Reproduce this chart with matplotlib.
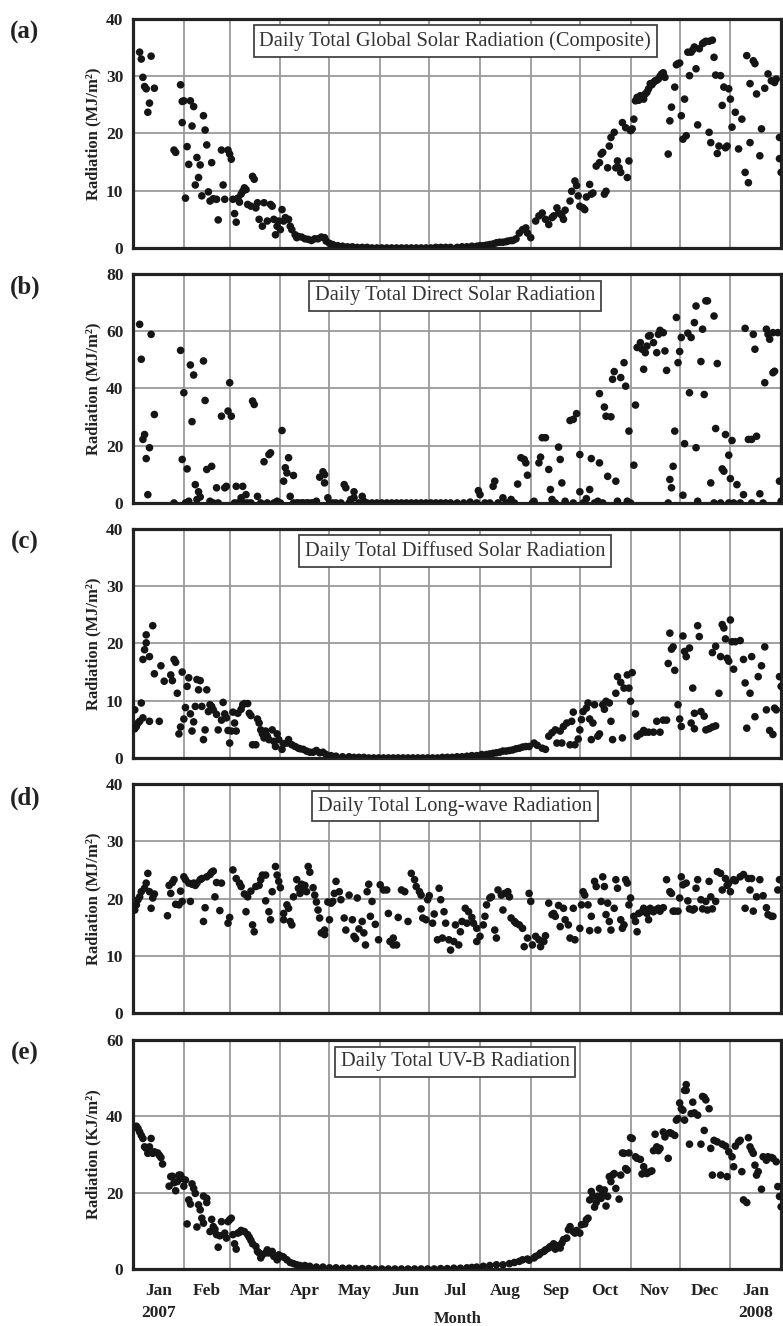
import matplotlib
matplotlib.use("Agg")
import matplotlib.pyplot as plt
import numpy as np

plt.rcParams['font.family'] = ['Liberation Serif', 'DejaVu Serif']

# day 0 = 1 Jan 2007
month_edges = [0, 31, 59, 90, 120, 151, 181, 212, 243, 273, 304, 334, 365, 396]
month_names = ['Jan\n2007', 'Feb', 'Mar', 'Apr', 'May', 'Jun', 'Jul', 'Aug',
               'Sep', 'Oct', 'Nov', 'Dec', 'Jan\n2008']

# (a) global solar radiation (MJ/m2)
global_day = [4, 5, 6, 7, 8, 9, 10, 11, 13, 25, 26, 29, 30, 30, 31, 32, 33, 34, 35, 36, 37, 38, 39, 40,
              41, 42, 43, 44, 45, 46, 47, 48, 49, 51, 52, 54, 55, 56, 58, 59, 60, 61, 62, 63, 64, 65,
              66, 67, 68, 69, 70, 72, 73, 74, 75, 76, 77, 79, 80, 82, 84, 85, 86, 87, 88, 89, 90, 91,
              92, 93, 95, 96, 97, 99, 100, 101, 103, 105, 107, 109, 111, 113, 115, 117, 118, 120, 122,
              125, 128, 131, 134, 137, 140, 143, 146, 149, 152, 155, 158, 161, 164, 167, 170, 173, 176,
              179, 182, 185, 188, 191, 194, 198, 201, 204, 207, 210, 212, 214, 216, 218, 220, 222, 224,
              226, 228, 229, 231, 232, 234, 236, 238, 240, 241, 243, 246, 248, 250, 252, 254, 256, 257,
              259, 260, 262, 263, 264, 267, 268, 270, 271, 272, 273, 275, 276, 277, 279, 280, 281, 283,
              285, 286, 287, 288, 289, 290, 291, 292, 294, 295, 296, 297, 298, 299, 301, 302, 303, 304,
              305, 306, 307, 308, 309, 310, 311, 312, 313, 314, 315, 316, 317, 318, 319, 320, 321, 322,
              323, 324, 325, 327, 328, 329, 331, 332, 333, 334, 335, 336, 337, 338, 339, 340, 341, 342,
              343, 344, 345, 346, 348, 349, 350, 352, 352, 353, 354, 355, 356, 357, 358, 359, 360, 361,
              362, 363, 364, 365, 366, 368, 370, 372, 374, 375, 376, 377, 377, 379, 380, 381, 383, 384,
              386, 388, 390, 392, 393, 395, 395, 396]
global_val = [34.2, 33.0, 29.8, 28.2, 27.8, 23.7, 25.3, 33.5, 27.9, 17.1, 16.7, 28.5, 21.9, 25.6, 25.7,
              8.7, 17.7, 14.6, 25.7, 21.3, 24.7, 11.0, 15.8, 12.3, 14.5, 9.1, 23.1, 20.6, 18.0, 9.8, 8.2,
              14.9, 8.6, 8.5, 4.9, 17.1, 11.0, 8.5, 17.1, 16.4, 15.5, 8.5, 6.0, 4.5, 8.7, 8.0, 9.4, 9.9,
              10.5, 10.2, 7.6, 7.3, 12.5, 12.0, 7.0, 7.9, 5.0, 3.8, 7.9, 4.7, 7.6, 7.3, 5.0, 2.3, 3.8,
              4.7, 3.2, 6.7, 4.7, 5.3, 5.0, 3.8, 3.2, 2.3, 1.8, 2.0, 1.9, 1.6, 1.5, 1.3, 1.6, 1.6, 1.9,
              1.8, 1.2, 0.8, 0.6, 0.4, 0.3, 0.2, 0.2, 0.1, 0.1, 0.1, 0.0, 0.0, 0.0, 0.0, 0.0, 0.0, 0.0,
              0.0, 0.0, 0.0, 0.0, 0.0, 0.0, 0.1, 0.1, 0.1, 0.1, 0.1, 0.2, 0.2, 0.3, 0.3, 0.4, 0.4, 0.5,
              0.6, 0.7, 0.9, 1.0, 1.0, 1.1, 1.2, 1.3, 1.3, 1.6, 2.6, 3.2, 3.5, 2.6, 1.8, 4.7, 5.6, 6.1,
              5.0, 4.1, 5.3, 5.6, 7.0, 6.1, 5.7, 5.0, 6.6, 8.2, 9.9, 11.7, 10.9, 9.1, 7.3, 7.0, 6.7, 8.9,
              11.1, 9.4, 9.6, 14.3, 14.9, 16.4, 16.7, 9.4, 9.9, 14.0, 17.8, 19.3, 20.2, 14.0, 15.2, 14.0,
              13.2, 21.9, 21.0, 12.3, 15.2, 20.5, 20.8, 22.5, 25.7, 26.3, 25.8, 26.6, 26.2, 26.0, 26.9,
              27.2, 27.8, 28.7, 28.5, 28.9, 29.2, 29.3, 29.5, 30.0, 30.4, 30.6, 29.8, 16.4, 22.2, 24.6,
              28.1, 32.0, 32.2, 32.3, 23.1, 19.0, 26.0, 19.6, 34.2, 30.1, 34.2, 34.6, 35.1, 31.3, 21.5,
              34.8, 35.7, 35.9, 36.1, 36.1, 20.2, 18.4, 36.3, 33.3, 30.2, 16.5, 17.8, 30.1, 24.9, 28.1,
              17.5, 17.8, 27.8, 26.0, 21.1, 23.7, 17.3, 22.5, 13.2, 33.6, 11.4, 28.7, 18.4, 32.7, 32.2,
              26.9, 16.1, 20.8, 27.9, 30.4, 29.2, 28.9, 29.5, 19.3, 15.6, 13.2]

# (b) direct solar radiation (MJ/m2)
direct_day = [4, 5, 6, 7, 8, 9, 10, 11, 13, 25, 29, 30, 31, 32, 33, 34, 35, 36, 37, 38, 39, 40, 41, 43,
              44, 45, 47, 48, 49, 51, 52, 54, 56, 57, 58, 59, 60, 62, 63, 64, 66, 67, 68, 69, 70, 72,
              73, 74, 76, 78, 80, 82, 83, 84, 86, 88, 90, 91, 92, 93, 94, 95, 96, 98, 98, 100, 101, 103,
              104, 106, 107, 109, 110, 112, 114, 116, 117, 117, 119, 120, 122, 124, 127, 129, 130, 132,
              133, 135, 135, 138, 140, 141, 143, 146, 149, 152, 155, 158, 161, 164, 167, 170, 173, 176,
              179, 182, 185, 188, 191, 194, 198, 202, 206, 210, 211, 212, 215, 218, 220, 221, 223, 226,
              228, 231, 233, 235, 237, 239, 240, 241, 244, 245, 248, 249, 250, 252, 254, 255, 256, 258,
              260, 261, 262, 264, 267, 269, 269, 271, 273, 273, 275, 277, 279, 280, 282, 284, 285, 285,
              287, 288, 289, 290, 292, 293, 294, 295, 296, 298, 300, 301, 302, 303, 304, 306, 307, 308,
              310, 311, 312, 313, 314, 315, 316, 318, 320, 321, 322, 324, 325, 326, 327, 328, 329, 330,
              331, 332, 333, 334, 335, 336, 337, 339, 340, 341, 343, 344, 344, 345, 347, 348, 349, 350,
              351, 353, 355, 355, 356, 357, 359, 360, 361, 362, 364, 364, 365, 366, 367, 369, 371, 373,
              374, 376, 378, 378, 379, 380, 381, 383, 385, 386, 387, 388, 389, 391, 391, 392, 394, 395,
              396]
direct_val = [62.4, 50.2, 22.2, 23.9, 15.5, 2.9, 19.3, 58.9, 30.9, 0.0, 53.3, 15.2, 38.5, 0.0, 11.9, 0.6,
              48.2, 28.4, 44.7, 6.4, 1.2, 3.9, 2.1, 49.6, 35.8, 11.7, 0.6, 12.8, 0.0, 5.3, 0.0, 30.3,
              5.3, 5.8, 32.1, 42.0, 30.3, 0.0, 5.8, 0.0, 1.8, 5.8, 0.0, 2.9, 0.0, 0.0, 35.6, 34.4, 2.3,
              0.0, 14.4, 0.0, 16.9, 17.5, 0.0, 0.6, 0.0, 25.3, 7.6, 12.3, 10.5, 15.8, 2.3, 9.6, 0.0, 0.0,
              0.0, 0.0, 0.0, 0.0, 0.0, 0.0, 0.0, 0.6, 9.0, 10.9, 7.0, 9.9, 1.8, 0.0, 0.0, 0.0, 0.0, 6.4,
              5.3, 0.0, 1.2, 3.9, 1.8, 0.0, 2.3, 0.6, 0.0, 0.0, 0.0, 0.0, 0.0, 0.0, 0.0, 0.0, 0.0, 0.0,
              0.0, 0.0, 0.0, 0.0, 0.0, 0.0, 0.0, 0.0, 0.0, 0.0, 0.3, 0.0, 4.3, 2.9, 0.0, 0.0, 5.8, 7.6,
              0.0, 1.8, 0.0, 1.2, 0.0, 6.6, 15.8, 15.2, 14.0, 9.7, 0.0, 0.6, 14.0, 16.0, 22.8, 22.8,
              11.7, 4.7, 1.2, 0.0, 19.5, 15.2, 7.0, 0.6, 28.8, 0.0, 29.2, 31.2, 3.9, 16.9, 0.0, 1.5, 4.7,
              15.5, 0.0, 0.6, 38.2, 14.0, 0.0, 33.5, 30.3, 9.3, 30.1, 43.2, 45.9, 7.6, 0.6, 43.8, 49.0,
              40.8, 0.6, 25.1, 0.0, 13.2, 34.2, 54.3, 56.0, 53.7, 46.7, 52.5, 54.8, 58.3, 58.5, 56.0,
              52.5, 58.9, 60.3, 59.5, 53.1, 46.3, 0.0, 8.2, 5.3, 12.8, 25.1, 64.8, 49.0, 52.9, 57.8, 2.7,
              20.7, 59.3, 38.5, 57.8, 63.0, 68.8, 19.3, 0.6, 49.4, 60.7, 37.9, 70.6, 70.6, 7.0, 65.3,
              0.0, 26.0, 48.7, 0.0, 11.9, 11.1, 23.9, 0.0, 16.7, 8.5, 21.8, 0.0, 6.4, 0.0, 2.9, 61.0,
              22.2, 22.2, 0.0, 58.9, 53.7, 23.3, 3.2, 0.0, 42.0, 60.7, 58.9, 57.2, 59.5, 45.5, 46.0,
              59.5, 7.6, 0.6]

# (c) diffused solar radiation (MJ/m2)
diffuse_day = [1, 1, 2, 3, 4, 5, 6, 6, 7, 8, 8, 10, 10, 12, 13, 16, 17, 19, 23, 24, 25, 26, 27, 28, 29,
               30, 31, 32, 33, 34, 35, 36, 37, 38, 39, 40, 41, 42, 43, 44, 45, 46, 47, 48, 49, 51, 52,
               54, 55, 56, 57, 58, 59, 60, 61, 62, 63, 64, 66, 67, 68, 70, 71, 72, 73, 75, 76, 77, 78,
               79, 80, 81, 82, 83, 85, 86, 87, 88, 89, 91, 92, 94, 95, 97, 99, 101, 102, 104, 106, 108,
               110, 112, 114, 116, 118, 121, 124, 128, 132, 135, 138, 141, 144, 147, 150, 153, 156, 159,
               162, 165, 168, 171, 174, 177, 180, 183, 186, 189, 192, 195, 198, 201, 204, 207, 210, 213,
               216, 218, 220, 222, 224, 226, 228, 230, 232, 234, 236, 238, 240, 242, 245, 247, 250, 252,
               254, 256, 258, 259, 261, 262, 263, 265, 267, 268, 269, 270, 272, 273, 274, 275, 277, 278,
               279, 280, 281, 282, 284, 285, 287, 288, 289, 291, 292, 293, 295, 296, 298, 299, 300, 302,
               303, 304, 305, 307, 308, 310, 312, 313, 315, 318, 320, 322, 324, 326, 327, 328, 329, 330,
               331, 333, 334, 335, 336, 337, 338, 340, 341, 342, 343, 343, 345, 346, 347, 349, 350, 352,
               354, 356, 354, 356, 358, 359, 360, 361, 362, 363, 364, 365, 366, 367, 368, 371, 373, 374,
               375, 377, 378, 380, 382, 384, 386, 387, 389, 391, 392, 393, 395, 396]
diffuse_val = [8.4, 5.1, 5.5, 6.1, 6.4, 9.6, 17.2, 7.0, 18.9, 20.1, 21.5, 17.7, 6.4, 23.1, 14.7, 6.4, 16.1,
               13.4, 14.5, 13.5, 17.2, 16.7, 11.3, 4.2, 5.4, 15.0, 6.8, 8.8, 12.5, 14.0, 7.7, 4.7, 6.3,
               9.0, 13.7, 11.9, 13.5, 9.0, 3.2, 4.9, 11.9, 8.1, 9.3, 9.0, 8.4, 7.6, 4.9, 6.6, 9.7, 7.7,
               7.0, 4.8, 2.6, 4.7, 8.0, 6.1, 4.7, 7.8, 8.5, 9.3, 9.5, 9.5, 7.8, 7.4, 2.3, 2.3, 6.8, 6.1,
               4.9, 4.2, 3.5, 4.7, 3.8, 3.2, 4.9, 2.9, 2.0, 4.2, 3.2, 1.5, 2.5, 2.6, 3.2, 2.3, 2.0, 1.7,
               1.6, 1.5, 1.2, 1.0, 1.0, 1.3, 0.9, 1.0, 0.6, 0.4, 0.3, 0.2, 0.2, 0.1, 0.1, 0.1, 0.0, 0.0,
               0.0, 0.0, 0.0, 0.0, 0.0, 0.0, 0.0, 0.0, 0.0, 0.0, 0.0, 0.0, 0.0, 0.1, 0.1, 0.1, 0.2, 0.2,
               0.3, 0.4, 0.4, 0.6, 0.6, 0.7, 0.8, 0.9, 1.0, 1.2, 1.2, 1.3, 1.4, 1.6, 1.7, 1.9, 2.0, 2.0,
               2.6, 2.2, 1.7, 1.5, 3.8, 4.4, 4.9, 2.6, 4.7, 2.6, 5.5, 6.1, 2.3, 6.4, 8.0, 2.3, 3.3, 4.9,
               6.7, 8.1, 8.7, 9.6, 6.8, 3.2, 6.1, 9.3, 3.8, 4.2, 9.3, 8.5, 9.9, 9.6, 6.4, 3.2, 11.3,
               14.2, 13.2, 3.5, 12.2, 14.5, 12.2, 9.9, 14.9, 7.7, 3.8, 4.2, 4.8, 4.5, 4.5, 4.5, 6.4, 4.5,
               6.6, 6.6, 16.5, 21.8, 19.0, 19.4, 15.3, 9.3, 6.8, 5.5, 21.3, 18.6, 17.7, 19.2, 6.1, 12.2,
               7.8, 5.1, 23.1, 21.2, 8.1, 7.3, 4.9, 5.1, 5.4, 5.6, 18.4, 19.5, 11.3, 17.7, 23.3, 22.7,
               20.8, 17.4, 16.9, 24.1, 20.3, 15.5, 20.3, 20.5, 17.2, 13.1, 5.2, 11.3, 17.7, 7.2, 14.2,
               16.1, 19.4, 8.4, 4.8, 4.1, 8.7, 8.4, 14.2, 12.5]

# (d) long-wave radiation (MJ/m2)
longwave_day = [1, 2, 3, 4, 5, 7, 8, 9, 10, 11, 12, 13, 21, 22, 23, 24, 25, 26, 28, 29, 30, 31, 32, 34,
                35, 36, 37, 38, 39, 41, 42, 43, 44, 45, 47, 48, 49, 50, 51, 53, 54, 58, 59, 61, 63, 65,
                66, 68, 69, 70, 72, 73, 74, 75, 77, 78, 79, 81, 81, 83, 84, 85, 87, 88, 89, 90, 92, 92,
                94, 95, 96, 97, 98, 100, 101, 102, 103, 104, 105, 106, 107, 108, 110, 111, 112, 113, 114,
                115, 117, 117, 119, 120, 121, 122, 123, 124, 126, 127, 129, 130, 132, 134, 135, 136, 137,
                138, 140, 141, 142, 143, 144, 145, 146, 148, 150, 151, 153, 155, 156, 157, 159, 159, 161,
                162, 164, 166, 168, 170, 172, 173, 175, 176, 176, 177, 179, 180, 181, 183, 184, 186, 187,
                188, 189, 190, 191, 193, 194, 196, 197, 199, 200, 201, 203, 204, 205, 207, 208, 210, 210,
                212, 214, 215, 216, 218, 219, 221, 222, 223, 225, 226, 227, 229, 230, 231, 233, 234, 236,
                238, 239, 241, 242, 243, 244, 246, 248, 249, 251, 252, 254, 256, 257, 258, 260, 261, 263,
                264, 266, 267, 269, 270, 273, 274, 275, 276, 278, 279, 280, 282, 283, 284, 286, 287, 288,
                289, 290, 291, 292, 294, 295, 296, 298, 299, 300, 301, 302, 303, 304, 306, 307, 308, 309,
                311, 312, 314, 315, 316, 318, 319, 321, 322, 324, 326, 328, 329, 330, 331, 333, 334, 335,
                336, 338, 339, 340, 342, 343, 344, 345, 347, 348, 350, 351, 352, 353, 354, 356, 357, 359,
                360, 362, 363, 364, 365, 367, 368, 371, 373, 374, 376, 377, 378, 379, 381, 383, 385, 387,
                388, 390, 391, 394, 395]
longwave_val = [18.0, 18.9, 19.8, 20.3, 21.2, 21.8, 22.7, 24.4, 21.2, 18.3, 20.1, 20.8, 17.0, 22.3, 20.9,
                22.8, 23.3, 19.0, 18.9, 21.3, 19.5, 23.8, 23.3, 22.7, 19.5, 22.5, 22.7, 22.3, 22.7, 23.3,
                23.5, 16.0, 18.4, 23.8, 24.2, 24.6, 24.8, 20.3, 22.8, 17.9, 22.7, 15.7, 16.7, 25.0, 23.5,
                22.7, 22.1, 20.8, 17.7, 20.3, 21.3, 15.4, 14.2, 22.1, 22.3, 23.3, 24.1, 19.6, 24.1, 17.7,
                16.3, 21.2, 25.6, 24.1, 23.0, 21.9, 16.3, 17.4, 18.9, 18.3, 16.0, 15.4, 20.3, 23.3, 21.8,
                20.9, 22.5, 21.5, 22.3, 21.2, 25.6, 24.6, 21.9, 20.6, 19.4, 18.0, 16.6, 14.0, 13.7, 14.5,
                19.4, 16.3, 19.2, 19.5, 20.9, 23.0, 21.2, 19.8, 16.6, 14.5, 20.6, 16.3, 13.4, 13.0, 20.1,
                14.7, 16.0, 14.0, 11.9, 21.2, 22.5, 16.9, 19.5, 15.5, 12.8, 22.4, 21.5, 21.5, 17.4, 12.5,
                11.9, 13.1, 11.9, 16.7, 21.5, 21.2, 16.0, 24.4, 23.3, 22.1, 21.2, 20.6, 18.2, 16.6, 16.3,
                19.8, 20.5, 15.7, 17.3, 12.8, 21.8, 19.8, 13.1, 17.7, 15.7, 12.8, 11.0, 12.5, 15.4, 11.9,
                14.2, 16.0, 18.3, 15.7, 17.7, 16.7, 15.7, 14.8, 12.5, 13.4, 15.4, 16.9, 18.9, 20.1, 20.3,
                14.5, 13.1, 21.5, 20.6, 18.0, 20.9, 21.2, 20.3, 16.6, 16.0, 15.7, 15.4, 14.8, 11.6, 13.1,
                20.9, 19.5, 11.9, 13.4, 12.8, 11.6, 12.5, 13.5, 19.2, 17.2, 17.4, 16.9, 18.8, 15.1, 18.3,
                16.3, 15.4, 13.1, 18.3, 12.8, 14.8, 18.9, 21.2, 20.6, 18.9, 14.4, 16.9, 23.0, 22.1, 14.5,
                19.5, 23.8, 22.1, 17.2, 19.2, 16.0, 14.5, 18.3, 23.3, 21.8, 16.3, 14.8, 15.4, 23.3, 22.7,
                18.9, 20.1, 16.9, 16.0, 14.2, 17.4, 17.7, 18.3, 17.4, 16.3, 18.3, 17.7, 18.0, 18.3, 17.8,
                18.4, 23.3, 21.2, 20.9, 17.8, 17.8, 17.8, 20.1, 23.8, 22.4, 22.7, 19.6, 18.2, 18.0, 18.2,
                21.8, 23.3, 19.8, 18.2, 19.5, 18.0, 23.0, 20.3, 18.2, 19.5, 24.7, 24.4, 21.5, 23.5, 22.3,
                22.7, 21.2, 23.3, 23.1, 23.8, 24.2, 18.3, 23.5, 21.5, 23.5, 17.8, 20.3, 23.3, 20.5, 18.4,
                17.2, 16.9, 16.9, 21.5, 23.3]

# (e) UV-B radiation (KJ/m2)
uvb_day = [1, 2, 3, 4, 5, 6, 7, 8, 9, 10, 11, 12, 13, 15, 16, 17, 18, 22, 23, 24, 25, 26, 27, 28, 29, 30,
           31, 32, 33, 34, 35, 36, 37, 38, 39, 40, 41, 42, 43, 43, 45, 45, 47, 48, 49, 50, 51, 52, 53,
           54, 56, 57, 58, 59, 60, 61, 62, 63, 64, 65, 66, 68, 70, 71, 72, 73, 75, 76, 77, 78, 79, 81,
           82, 83, 85, 86, 88, 89, 91, 92, 94, 96, 98, 100, 102, 105, 108, 112, 116, 120, 124, 128, 132,
           136, 140, 144, 148, 152, 156, 160, 164, 168, 172, 176, 180, 184, 188, 192, 196, 200, 204, 207,
           210, 214, 218, 222, 226, 230, 233, 236, 238, 241, 242, 245, 246, 248, 249, 251, 252, 254, 255,
           257, 258, 259, 260, 261, 262, 263, 265, 266, 267, 269, 270, 271, 273, 274, 276, 277, 278, 279,
           280, 281, 282, 283, 284, 285, 286, 287, 288, 289, 290, 291, 292, 293, 294, 295, 297, 298, 299,
           300, 301, 302, 303, 304, 305, 307, 308, 310, 311, 312, 313, 314, 316, 317, 318, 319, 320, 321,
           322, 324, 325, 327, 328, 329, 331, 332, 333, 334, 335, 336, 337, 338, 337, 338, 340, 341, 342,
           343, 345, 347, 348, 349, 350, 352, 349, 353, 354, 355, 357, 359, 360, 362, 363, 364, 366, 367,
           368, 370, 371, 372, 373, 375, 376, 377, 378, 379, 380, 381, 382, 384, 385, 387, 388, 390, 391,
           393, 394, 395, 396]
uvb_val = [37.2, 37.4, 36.8, 35.9, 35.0, 34.2, 32.0, 31.6, 30.3, 32.0, 34.2, 30.3, 30.7, 30.4, 29.8, 29.2,
           27.5, 21.7, 24.2, 24.3, 22.6, 20.5, 22.9, 24.6, 24.6, 23.7, 21.7, 23.3, 11.8, 18.1, 17.0, 22.3,
           21.1, 19.8, 11.0, 16.8, 15.5, 13.3, 12.0, 19.1, 18.5, 17.4, 9.8, 13.0, 11.1, 10.4, 9.0, 5.7,
           8.7, 12.4, 9.4, 8.1, 12.4, 12.9, 13.3, 9.0, 6.6, 5.2, 9.4, 9.6, 10.1, 9.8, 9.0, 8.3, 7.5, 6.6,
           5.9, 4.6, 4.2, 2.9, 3.7, 4.2, 5.0, 4.2, 4.6, 3.3, 2.4, 3.7, 3.3, 3.1, 2.4, 1.7, 1.4, 1.1, 0.9,
           0.9, 0.7, 0.5, 0.5, 0.3, 0.3, 0.2, 0.2, 0.1, 0.1, 0.1, 0.0, 0.0, 0.0, 0.0, 0.0, 0.0, 0.0, 0.0,
           0.0, 0.0, 0.1, 0.1, 0.2, 0.2, 0.3, 0.4, 0.5, 0.7, 0.9, 1.1, 1.1, 1.4, 1.7, 2.0, 2.4, 2.6, 2.3,
           2.9, 3.3, 3.7, 4.2, 4.6, 5.0, 5.5, 5.9, 6.6, 5.2, 6.1, 5.9, 5.5, 6.8, 7.7, 8.1, 10.3, 11.1,
           9.8, 9.4, 10.1, 9.4, 11.6, 11.8, 12.9, 13.3, 18.1, 20.3, 19.1, 16.2, 17.4, 19.0, 21.1, 18.5,
           19.8, 20.7, 16.5, 19.0, 24.2, 22.9, 24.6, 25.0, 21.1, 18.3, 24.6, 30.4, 30.3, 26.3, 25.9,
           30.4, 34.4, 34.2, 29.4, 29.0, 28.7, 24.9, 26.8, 25.5, 25.0, 25.5, 25.7, 31.0, 35.3, 32.0,
           31.0, 31.6, 35.9, 34.6, 29.0, 35.7, 35.5, 35.0, 39.0, 39.4, 43.5, 42.0, 41.6, 46.8, 48.3,
           39.0, 46.8, 32.7, 40.7, 43.7, 40.9, 40.3, 32.7, 45.2, 45.0, 44.3, 42.0, 36.3, 31.6, 24.6,
           33.7, 33.3, 24.6, 32.7, 32.2, 24.2, 30.7, 29.4, 26.8, 32.2, 33.3, 33.7, 25.5, 18.1, 17.4,
           34.4, 32.0, 31.1, 30.3, 27.2, 24.6, 25.5, 20.9, 29.4, 28.5, 29.4, 29.2, 29.0, 28.1, 21.6,
           19.0, 16.3]

panels = [
    ('(a)', 'Daily Total Global Solar Radiation (Composite)', 'Radiation (MJ/m²)',
     global_day, global_val, 40, 10),
    ('(b)', 'Daily Total Direct Solar Radiation', 'Radiation (MJ/m²)',
     direct_day, direct_val, 80, 20),
    ('(c)', 'Daily Total Diffused Solar Radiation', 'Radiation (MJ/m²)',
     diffuse_day, diffuse_val, 40, 10),
    ('(d)', 'Daily Total Long-wave Radiation', 'Radiation (MJ/m²)',
     longwave_day, longwave_val, 40, 10),
    ('(e)', 'Daily Total UV-B Radiation', 'Radiation (KJ/m²)',
     uvb_day, uvb_val, 60, 20),
]

fig = plt.figure(figsize=(7.83, 13.26), dpi=100)
bottoms = [0.813, 0.6207, 0.4284, 0.236, 0.043]

mid_months = [(month_edges[i] + month_edges[i + 1]) / 2 for i in range(13)]

for k, (tag, title, ylab, xd, yv, ymax, ystep) in enumerate(panels):
    ax = fig.add_axes([0.170, bottoms[k], 0.8276, 0.1727])
    ax.scatter(xd, yv, s=30, color='#151515', edgecolors='none', zorder=3)
    ax.set_xlim(0, 396)
    ax.set_ylim(0, ymax)
    ax.set_yticks(np.arange(0, ymax + 1, ystep))
    ax.set_xticks(month_edges)
    ax.set_xticklabels([])
    ax.grid(True, color='#9a9a9a', linewidth=1.3)
    ax.set_axisbelow(True)
    for sp in ax.spines.values():
        sp.set_linewidth(2.3)
        sp.set_color('#222222')
    ax.tick_params(axis='both', which='both', length=0)
    ax.tick_params(axis='y', pad=7, labelsize=12.5)
    for lab in ax.get_yticklabels():
        lab.set_fontweight('bold')
        lab.set_color('#222222')
    ax.set_ylabel(ylab, fontsize=12, fontweight='bold', color='#222222')
    ax.yaxis.set_label_coords(-0.049, 0.5)
    ax.text(-0.167, 0.94, tag, transform=ax.transAxes, fontsize=18, fontweight='bold',
            ha='center', va='center', color='#222222')
    ax.text(0.497, 0.904, title, transform=ax.transAxes, fontsize=14.7, color='#333333',
            ha='center', va='center',
            bbox=dict(boxstyle='square,pad=0.28', facecolor='white', edgecolor='#444444',
                      linewidth=1.3), zorder=5)
    if k == 4:
        ax.set_xticks(mid_months, minor=True)
        ax.set_xticklabels(month_names, minor=True, fontsize=12.5, fontweight='bold',
                           color='#222222', linespacing=1.5, va='top')
        ax.tick_params(axis='x', which='minor', pad=10)

fig.text(0.584, 0.0055, 'Month', fontsize=12, fontweight='bold', ha='center', va='center',
         color='#222222')

fig.savefig('out.png', dpi=100, facecolor='white')
